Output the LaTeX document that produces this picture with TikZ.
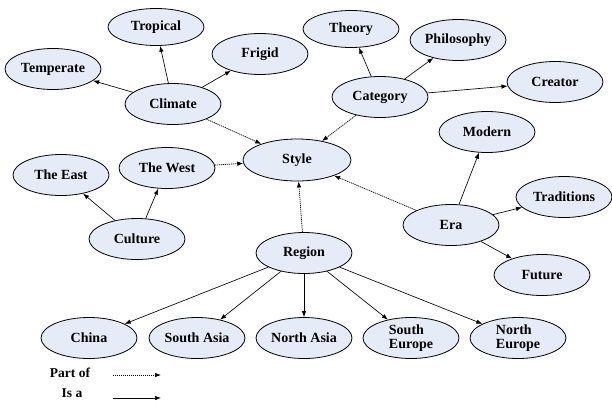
\documentclass[tikz,border=0pt]{standalone}
\usepackage{fontspec}
\setmainfont{Liberation Serif}
\usetikzlibrary{shapes.geometric,arrows.meta}
\definecolor{bubble}{RGB}{230,236,247}
\tikzset{
  concept/.style={ellipse,draw=black,line width=0.8pt,fill=bubble,
    minimum width=96pt,minimum height=41pt,inner sep=0pt,
    font=\fontsize{14}{14.5}\selectfont\bfseries,align=center},
  isa/.style={-{Latex[length=6pt,width=4.5pt]},line width=0.65pt},
  partof/.style={-{Latex[length=6pt,width=4.5pt]},line width=0.7pt,
    dash pattern=on 1.2pt off 0.8pt},
  legend/.style={font=\fontsize{13.5}{14}\selectfont\bfseries}
}
\begin{document}
\begin{tikzpicture}[x=1pt,y=-1pt]
\useasboundingbox (0,0) rectangle (612,405);

% central concept
\node[concept,minimum width=108pt,minimum height=42pt] (style) at (297,160) {Style};

% climate branch
\node[concept,minimum height=37pt] (tropical) at (156,27) {Tropical};
\node[concept] (temperate) at (53,69) {Temperate};
\node[concept] (frigid) at (260,54) {Frigid};
\node[concept] (climate) at (173,104) {Climate};

% culture branch
\node[concept] (west) at (167,168) {The West};
\node[concept] (east) at (61,175) {The East};
\node[concept] (culture) at (137,239) {Culture};

% category branch
\node[concept,minimum height=37pt] (theory) at (351,29) {Theory};
\node[concept] (philosophy) at (458,40) {Philosophy};
\node[concept] (creator) at (555,82) {Creator};
\node[concept] (category) at (380,97) {Category};

% era branch
\node[concept] (modern) at (487,132) {Modern};
\node[concept] (traditions) at (564,197) {Traditions};
\node[concept] (era) at (451,225) {Era};
\node[concept] (future) at (542,275) {Future};

% region branch
\node[concept] (region) at (304,253) {Region};
\node[concept] (china) at (89,338) {China};
\node[concept] (sasia) at (197,338) {South Asia};
\node[concept] (nasia) at (304,338) {North Asia};
\node[concept,align=left] (seurope) at (411,338) {South\\Europe};
\node[concept,align=left] (neurope) at (518,338) {North\\Europe};

% "is a" links
\draw[isa] (climate) -- (tropical);
\draw[isa] (climate) -- (temperate);
\draw[isa] (climate) -- (frigid);
\draw[isa] (culture) -- (east);
\draw[isa] (culture) -- (west);
\draw[isa] (category) -- (theory);
\draw[isa] (category) -- (philosophy);
\draw[isa] (category) -- (creator);
\draw[isa] (era) -- (modern);
\draw[isa] (era) -- (traditions);
\draw[isa] (era) -- (future);
\draw[isa] (region) -- (china);
\draw[isa] (region) -- (sasia);
\draw[isa] (region) -- (nasia);
\draw[isa] (region) -- (seurope);
\draw[isa] (region) -- (neurope);

% "part of" links
\draw[partof] (climate) -- (style);
\draw[partof] (category) -- (style);
\draw[partof] (west) -- (style);
\draw[partof] (region) -- (style);
\draw[partof] (era) -- (style);

% legend
\node[legend] (lpart) at (70,373) {Part of};
\node[legend] (lisa) at (72,393) {Is a};
\coordinate (pa) at (113,375);
\coordinate (pb) at (161,375);
\coordinate (ia) at (113,398);
\coordinate (ib) at (161,398);
\draw[partof] (pa) -- (pb);
\draw[isa] (ia) -- (ib);
\end{tikzpicture}
\end{document}
